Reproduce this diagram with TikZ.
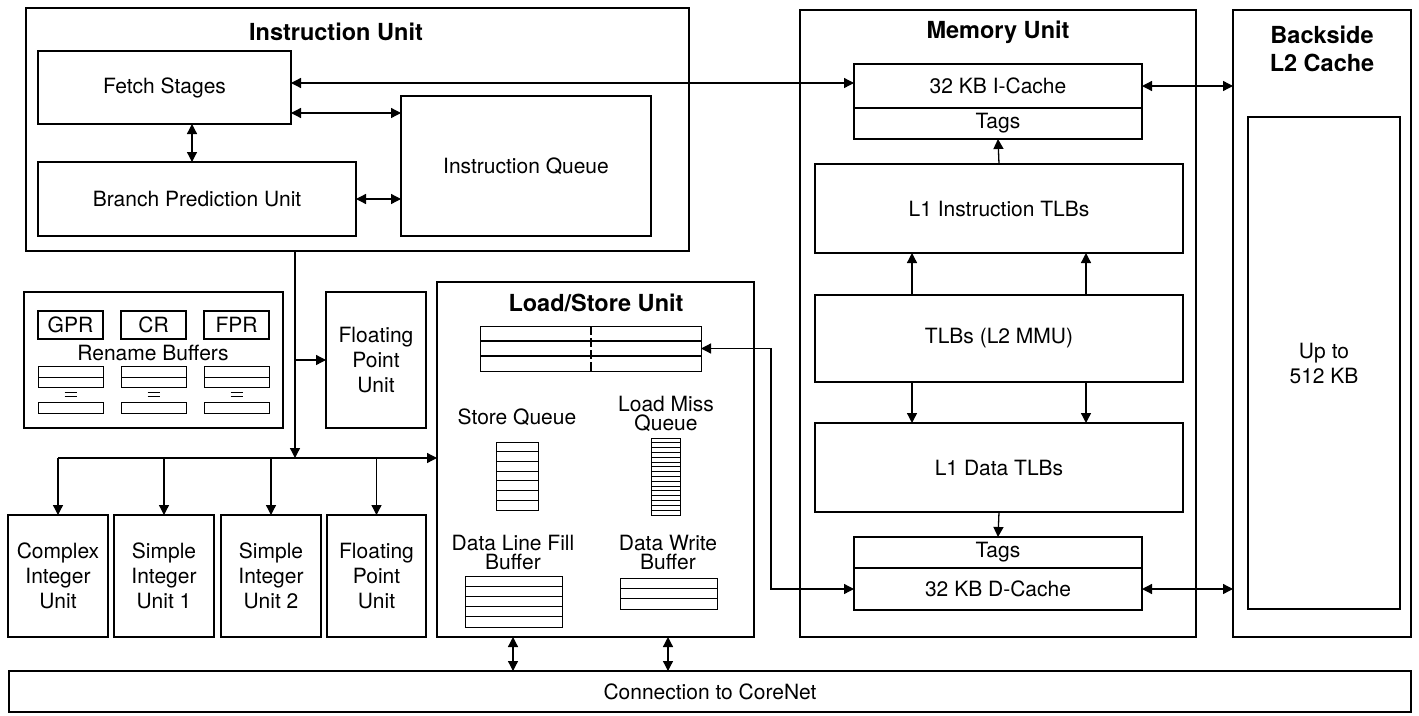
\documentclass[tikz,border=0pt]{standalone}
\usepackage{fontspec}
\setmainfont{TeX Gyre Heros}
\usetikzlibrary{arrows.meta,calc}
\newcommand{\mkbox}[7][]{\node[box,#1,minimum width={#5-#3},minimum height={#6-#4}] (#2) at ({(#3+#5)/2},{(#4+#6)/2}) {#7};}
\begin{document}
\begin{tikzpicture}[x=1pt,y=-1pt,
 box/.style={draw,line width=1.3pt,inner sep=0pt,outer sep=0pt,align=center,font=\fontsize{21}{25}\selectfont},
 title/.style={font=\bfseries\fontsize{23.5}{28}\selectfont,align=center,inner sep=0pt},
 lab/.style={font=\fontsize{21}{19}\selectfont,align=center,inner sep=0pt},
 fine/.style={line width=1pt},
 mid/.style={line width=1.6pt},
 arr/.style={line width=1.3pt,-{Triangle[length=10pt,width=10pt]}},
 dbl/.style={line width=1.3pt,{Triangle[length=10pt,width=10pt]}-{Triangle[length=10pt,width=10pt]}}]
\useasboundingbox (0,0) rectangle (1419,715);

% ---------------- Instruction unit
\mkbox{iu}{26}{8}{689}{251}{}
\node[title] (iut) at (336,32) {Instruction Unit};
\mkbox{fetch}{38}{51}{291}{124}{Fetch Stages}
\mkbox{bpu}{38}{162}{356}{236}{Branch Prediction Unit}
\mkbox{iq}{401}{96}{651}{236}{Instruction Queue}

% ---------------- Memory unit
\mkbox{mu}{800}{10}{1196}{637}{}
\node[title] (mut) at (998,32) {Memory Unit};
\mkbox{icache}{854}{64}{1142}{108}{32 KB I-Cache}
\mkbox{itags}{854}{108}{1142}{139}{Tags}
\mkbox{l1i}{815}{164}{1183}{253}{L1 Instruction TLBs}
\mkbox{mmu}{815}{295}{1183}{382}{TLBs (L2 MMU)}
\mkbox{l1d}{815}{423}{1183}{512}{L1 Data TLBs}
\mkbox{dtags}{854}{537}{1142}{568}{Tags}
\mkbox{dcache}{854}{568}{1142}{610}{32 KB D-Cache}

% ---------------- L2
\mkbox{l2}{1233}{10}{1411}{637}{}
\node[title] (l2t) at (1322,49) {Backside\\L2 Cache};
\mkbox{l2in}{1248}{117}{1400}{609}{Up to\\512 KB}

% ---------------- Rename buffers
\mkbox{ren}{24}{292}{283}{428}{}
\mkbox{gpr}{38}{311}{103}{339}{GPR}
\mkbox{cr}{121}{311}{186}{339}{CR}
\mkbox{fpr}{204}{311}{269}{339}{FPR}
\node[lab] (renl) at (153,353) {Rename Buffers};
\foreach \xa/\xb in {38/103,121/186,204/269}{
  \draw[fine] (\xa,366) rectangle (\xb,387);
  \draw[fine] (\xa,377) -- (\xb,377);
  \draw[fine] ({(\xa+\xb)/2-6},392) -- ({(\xa+\xb)/2+6},392);
  \draw[fine] ({(\xa+\xb)/2-6},396) -- ({(\xa+\xb)/2+6},396);
  \draw[fine] (\xa,402) rectangle (\xb,413);
}

% ---------------- Execution units
\mkbox{fpu1}{326}{292}{426}{428}{Floating\\Point\\Unit}
\mkbox{ciu}{8}{515}{108}{637}{Complex\\Integer\\Unit}
\mkbox{s1}{114}{515}{214}{637}{Simple\\Integer\\Unit 1}
\mkbox{s2}{221}{515}{321}{637}{Simple\\Integer\\Unit 2}
\mkbox{fpu2}{327}{515}{426}{637}{Floating\\Point\\Unit}

% ---------------- Load/Store unit
\mkbox{lsu}{437}{282}{754}{637}{}
\node[title] (lsut) at (596,303) {Load/Store Unit};
\mkbox[fine]{ltab}{480}{326}{701}{371}{}
\draw[mid] (ltab.west |- 0,341) -- (ltab.east |- 0,341);
\draw[mid] (ltab.west |- 0,356) -- (ltab.east |- 0,356);
\draw[line width=2pt,dash pattern=on 9pt off 3pt] (591,326) -- (591,371);

\node[lab] (sql) at (517,417) {Store Queue};
\mkbox[fine]{sq}{496}{442}{538}{510}{}
\foreach \i in {1,...,6}{\draw[fine] (496,{442+\i*68/7}) -- (538,{442+\i*68/7});}

\node[lab] (lmql) at (666,414) {Load Miss\\Queue};
\mkbox[fine]{lmq}{651}{438}{680}{515}{}
\foreach \i in {1,...,15}{\draw[fine] (651,{438+\i*77/16}) -- (680,{438+\i*77/16});}

\node[lab] (dlfbl) at (513,552) {Data Line Fill\\Buffer};
\mkbox[fine]{dlfb}{465}{576}{562}{627}{}
\foreach \i in {1,...,4}{\draw[fine] (465,{576+\i*51/5}) -- (562,{576+\i*51/5});}

\node[lab] (dwbl) at (668,552) {Data Write\\Buffer};
\mkbox[fine]{dwb}{620}{578}{717}{609}{}
\foreach \i in {1,2}{\draw[mid] (620,{578+\i*31/3}) -- (717,{578+\i*31/3});}

% ---------------- CoreNet
\mkbox{core}{9}{671}{1411}{712}{Connection to CoreNet}

% ---------------- helper coordinates
\coordinate (yf) at (0,83);
\coordinate (yq) at (0,113);
\coordinate (xfb) at (192,0);
\coordinate (busx) at (295,458);
\coordinate (xa) at (912,0);
\coordinate (xb) at (1086,0);
\coordinate (xv) at (771,0);
\coordinate (xc1) at (513,0);
\coordinate (xc2) at (668,0);

% ---------------- connectors
\draw[dbl] (fetch.east |- yf) -- (icache.west |- yf);
\draw[dbl] (fetch.east |- yq) -- (iq.west |- yq);
\draw[dbl] (bpu.east) -- (bpu.east -| iq.west);
\draw[dbl] (fetch.south -| xfb) -- (bpu.north -| xfb);

\draw[arr] (iu.south -| busx) -- (busx);
\draw[arr] (fpu1.west -| busx) -- (fpu1.west);
\draw[arr] (ciu.north |- busx) -- (lsu.west |- busx);
\draw[arr] (ciu.north |- busx) -- (ciu.north);
\draw[arr] (s1.north |- busx) -- (s1.north);
\draw[arr] (s2.north |- busx) -- (s2.north);
\draw[arr] (fpu2.north |- busx) -- (fpu2.north);

\draw[dbl] (icache.east) -- (icache.east -| l2.west);
\draw[dbl] (dcache.east) -- (dcache.east -| l2.west);
\draw[arr] (l1i.north) -- (itags.south);
\draw[arr] (mmu.north -| xa) -- (l1i.south -| xa);
\draw[arr] (mmu.north -| xb) -- (l1i.south -| xb);
\draw[arr] (mmu.south -| xa) -- (l1d.north -| xa);
\draw[arr] (mmu.south -| xb) -- (l1d.north -| xb);
\draw[arr] (l1d.south) -- (dtags.north);

\draw[dbl] (ltab.east) -| (xv |- ltab.east) -- (xv |- dcache.west) -- (dcache.west);

\draw[dbl] (lsu.south -| xc1) -- (core.north -| xc1);
\draw[dbl] (lsu.south -| xc2) -- (core.north -| xc2);
\end{tikzpicture}
\end{document}
